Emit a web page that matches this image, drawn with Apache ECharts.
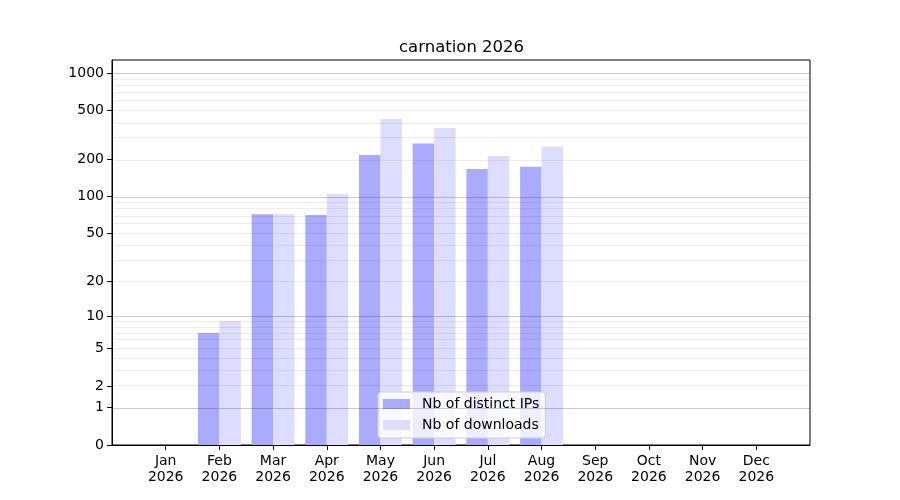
<!DOCTYPE html>
<html>
<head>
<meta charset="utf-8">
<title>carnation 2026</title>
<script src="https://cdn.jsdelivr.net/npm/echarts@6/dist/echarts.min.js"></script>
<style>
html, body { margin: 0; padding: 0; background: #fff; }
#chart { width: 900px; height: 500px; }
</style>
</head>
<body>
<div id="chart"></div>
<script>
const months = ['Jan', 'Feb', 'Mar', 'Apr', 'May', 'Jun', 'Jul', 'Aug', 'Sep', 'Oct', 'Nov', 'Dec'];
const year = '2026';
const distinctIps = [0, 7, 72, 71, 218, 270, 168, 175, 0, 0, 0, 0];
const downloads = [0, 9, 72, 105, 427, 361, 214, 255, 0, 0, 0, 0];
const yTickLabels = [0, 1, 2, 5, 10, 20, 50, 100, 200, 500, 1000];
const majorGrid = [1, 10, 100, 1000];
const minorGrid = [2, 3, 4, 5, 6, 7, 8, 9, 20, 30, 40, 50, 60, 70, 80, 90, 200, 300, 400, 500, 600, 700, 800, 900];
const yTop = 1280;

// échelle type matplotlib : position = log10(1 + valeur)
function sl(v) { return Math.log10(1 + v); }

// une case vide de chaque côté pour avoir la marge d'un mois aux bords
const categories = [''].concat(months.map(m => m + '\n' + year), ['']);
function pad(arr) { return [null].concat(arr.map(sl), [null]); }

const gridLines = majorGrid.map(v => ({ yAxis: sl(v), lineStyle: { color: 'rgba(0,0,0,0.2)' } }))
	.concat(minorGrid.map(v => ({ yAxis: sl(v), lineStyle: { color: 'rgba(0,0,0,0.07)' } })));

const font = 'DejaVu Sans';
let myChart = echarts.init(document.getElementById('chart'));
myChart.setOption({
	animation: false,
	textStyle: { fontFamily: font },
	title: {
		text: 'carnation ' + year,
		left: 394,
		top: 34,
		textStyle: { fontFamily: font, fontSize: 16.5, fontWeight: 'normal', color: '#000' }
	},
	legend: {
		orient: 'vertical',
		left: 378,
		top: 392,
		padding: [4, 6, 5, 5],
		itemGap: 5,
		itemWidth: 27,
		itemHeight: 10,
		icon: 'rect',
		backgroundColor: 'rgba(255,255,255,0.8)',
		borderColor: '#cccccc',
		borderWidth: 1,
		borderRadius: 3,
		textStyle: { fontFamily: font, fontSize: 14, color: '#000', lineHeight: 16, padding: [0, 0, 0, 7] }
	},
	grid: {
		left: 112, right: 90, top: 60, bottom: 55,
		show: true, borderColor: '#000', borderWidth: 1
	},
	xAxis: {
		type: 'category',
		data: categories,
		boundaryGap: false,
		axisLine: { lineStyle: { color: '#000', width: 1 } },
		axisTick: {
			length: 5,
			lineStyle: { color: '#000' },
			interval: function (i) { return i > 0 && i <= months.length; }
		},
		axisLabel: { interval: 0, margin: 8, fontFamily: font, fontSize: 14, lineHeight: 16, color: '#000' },
		splitLine: { show: false }
	},
	yAxis: {
		type: 'value',
		min: 0,
		max: sl(yTop),
		axisLine: { show: true, lineStyle: { color: '#000', width: 1 } },
		axisTick: { show: true, length: 5, lineStyle: { color: '#000' }, customValues: yTickLabels.map(sl) },
		axisLabel: {
			customValues: yTickLabels.map(sl),
			margin: 8,
			fontFamily: font,
			fontSize: 14,
			color: '#000',
			formatter: function (v) { return String(Math.round(Math.pow(10, v) - 1)); }
		},
		splitLine: { show: false }
	},
	series: [
		{
			name: 'Nb of distinct IPs',
			type: 'bar',
			data: pad(distinctIps),
			barWidth: '40%',
			barGap: '0%',
			itemStyle: { color: '#aaaaff' },
			markLine: {
				silent: true,
				symbol: ['none', 'none'],
				label: { show: false },
				lineStyle: { type: 'solid', width: 1 },
				data: gridLines
			}
		},
		{
			name: 'Nb of downloads',
			type: 'bar',
			data: pad(downloads),
			barWidth: '40%',
			barGap: '0%',
			itemStyle: { color: '#ddddff' }
		}
	]
});
</script>
</body>
</html>
